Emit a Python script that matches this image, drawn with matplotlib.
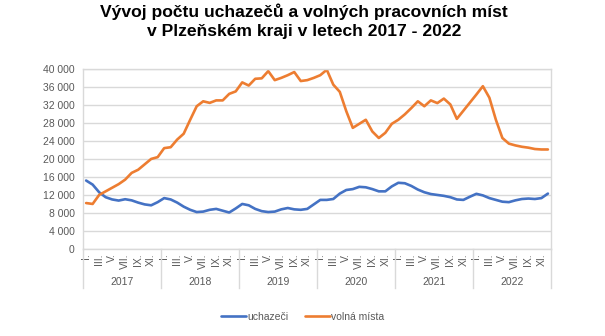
import numpy as np
import matplotlib
matplotlib.use("Agg")
import matplotlib.pyplot as plt
from matplotlib.ticker import FuncFormatter
import matplotlib.transforms as mtransforms

plt.rcParams['font.family'] = ['Liberation Sans', 'DejaVu Sans']

years = ['2017', '2018', '2019', '2020', '2021', '2022']
month_labels = ['I.', 'III.', 'V.', 'VII.', 'IX.', 'XI.']

# monthly values, Jan 2017 - Dec 2022
uchazeci = [
    15200, 14300, 12600, 11500, 11000, 10750, 11050, 10800, 10300, 9900, 9700, 10400,
    11300, 11000, 10300, 9400, 8700, 8200, 8300, 8700, 8900, 8500, 8100, 9000,
    10000, 9700, 8900, 8400, 8200, 8300, 8800, 9100, 8800, 8700, 8900, 9900,
    10900, 10900, 11100, 12300, 13100, 13300, 13800, 13700, 13300, 12800, 12800, 13900,
    14700, 14600, 14000, 13200, 12600, 12200, 12000, 11800, 11500, 11000, 10900, 11600,
    12250, 11900, 11300, 10900, 10500, 10400, 10800, 11100, 11200, 11100, 11300, 12300,
]
volna_mista = [
    10200, 10000, 12000, 12800, 13600, 14400, 15400, 16900, 17600, 18800, 20000, 20400,
    22400, 22600, 24300, 25600, 28700, 31700, 32800, 32450, 33000, 33000, 34450, 35000,
    37000, 36300, 37800, 37900, 39500, 37500, 38000, 38600, 39300, 37300, 37500, 38000,
    38600, 39800, 36500, 34900, 30600, 26900, 27800, 28700, 26100, 24650, 25800, 27800,
    28700, 29900, 31300, 32800, 31700, 33000, 32400, 33400, 32100, 28900, 30700, 32500,
    34300, 36150, 33600, 28700, 24650, 23400, 23000, 22700, 22500, 22200, 22100, 22100,
]

x = np.arange(len(uchazeci))
grey_txt = '#595959'
grid_c = '#d9d9d9'

fig = plt.figure(figsize=(6.05, 3.36), dpi=100)
ax = fig.add_axes([0.137, 0.259, 0.774, 0.536])

ax.plot(x, uchazeci, color='#4472C4', lw=1.9, label='uchazeči', solid_capstyle='round')
ax.plot(x, volna_mista, color='#ED7D31', lw=1.9, label='volná místa', solid_capstyle='round')

ax.set_xlim(-0.5, len(x) - 0.5)
ax.set_ylim(0, 40000)
ax.set_yticks(range(0, 40001, 4000))
ax.yaxis.set_major_formatter(FuncFormatter(lambda v, p: f"{int(v):,}".replace(',', ' ')))
ax.grid(axis='y', color=grid_c, lw=1)
ax.set_axisbelow(True)
ax.tick_params(axis='y', length=0, labelsize=7.5, labelcolor=grey_txt, pad=6)

ax.set_xticks(range(0, len(x), 2))
ax.set_xticklabels(month_labels * len(years), rotation=90, va='top', ha='center')
ax.tick_params(axis='x', length=0, labelsize=7.5, labelcolor=grey_txt, pad=3)

for s in ax.spines.values():
    s.set_color(grid_c)
    s.set_linewidth(1)

# year labels and separators below the axis
trans = mtransforms.blended_transform_factory(ax.transData, ax.transAxes)
for i, yr in enumerate(years):
    ax.text(i * 12 + 5.5, -0.185, yr, transform=trans, ha='center', va='center',
            fontsize=7.5, color=grey_txt)
for i in range(len(years) + 1):
    ax.plot([i * 12 - 0.5] * 2, [0, -0.215], transform=trans, color=grid_c,
            lw=1, clip_on=False)

fig.suptitle('Vývoj počtu uchazečů a volných pracovních míst\nv Plzeňském kraji v letech 2017 - 2022',
             x=0.502, y=0.99, fontsize=12.6, fontweight='bold', linespacing=1.33)

fig.legend(loc='center', bbox_to_anchor=(0.5, 0.058), ncol=2, frameon=False,
           fontsize=7.5, handlelength=2.4, handletextpad=0.1, columnspacing=1.6,
           labelcolor=grey_txt)

fig.savefig('out.png', dpi=100)
